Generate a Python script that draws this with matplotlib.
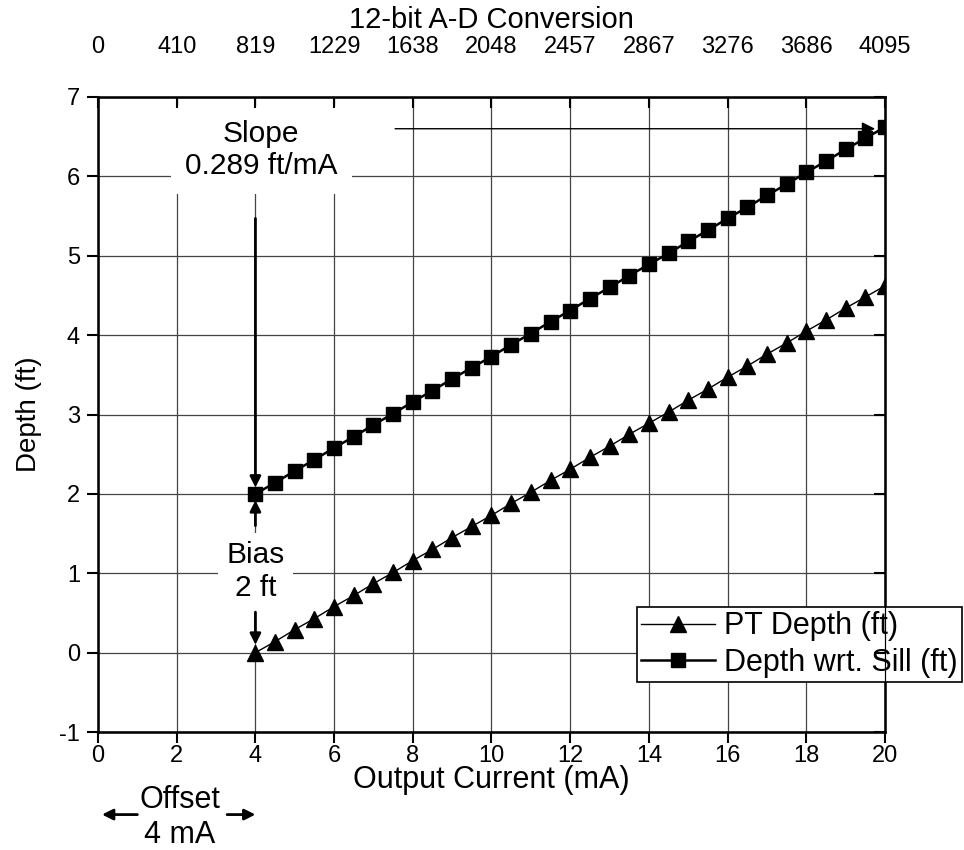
import matplotlib.pyplot as plt
import numpy as np

plt.rcParams['font.family'] = ['Liberation Sans', 'DejaVu Sans']
plt.rcParams['axes.unicode_minus'] = False

# corrente de saida (mA) e profundidades
corrente = [4.0, 4.5, 5.0, 5.5, 6.0, 6.5, 7.0, 7.5, 8.0, 8.5, 9.0, 9.5, 10.0, 10.5,
            11.0, 11.5, 12.0, 12.5, 13.0, 13.5, 14.0, 14.5, 15.0, 15.5, 16.0, 16.5,
            17.0, 17.5, 18.0, 18.5, 19.0, 19.5, 20.0]
pt_depth = [0.00, 0.14, 0.29, 0.43, 0.58, 0.72, 0.87, 1.01, 1.16, 1.30, 1.45, 1.59,
            1.73, 1.88, 2.02, 2.17, 2.31, 2.46, 2.60, 2.75, 2.89, 3.03, 3.18, 3.32,
            3.47, 3.61, 3.76, 3.90, 4.05, 4.19, 4.34, 4.48, 4.62]
sill_depth = [2.00, 2.14, 2.29, 2.43, 2.58, 2.72, 2.87, 3.01, 3.16, 3.30, 3.45, 3.59,
              3.73, 3.88, 4.02, 4.17, 4.31, 4.46, 4.60, 4.75, 4.89, 5.03, 5.18, 5.32,
              5.47, 5.61, 5.76, 5.90, 6.05, 6.19, 6.34, 6.48, 6.62]

xticks = [0, 2, 4, 6, 8, 10, 12, 14, 16, 18, 20]
top_labels = ["0", "410", "819", "1229", "1638", "2048", "2457", "2867", "3276", "3686", "4095"]

fig = plt.figure(figsize=(9.64, 8.5), dpi=100)
ax = fig.add_axes([0.1017, 0.1388, 0.8163, 0.7471])

ax.plot(corrente, pt_depth, 'k-', lw=1.0, marker='^', ms=11, label='PT Depth (ft)', zorder=3)
ax.plot(corrente, sill_depth, 'k-', lw=1.8, marker='s', ms=9.5, label='Depth wrt. Sill (ft)', zorder=3)

ax.set_xlim(0, 20)
ax.set_ylim(-1, 7)
ax.set_xticks(xticks)
ax.set_yticks(range(-1, 8))
ax.grid(True, color='#444444', lw=0.9)
ax.set_axisbelow(True)
ax.tick_params(axis='both', labelsize=17, width=1.5, length=8, direction='out')
ax.tick_params(axis='x', pad=1)
ax.tick_params(axis='y', pad=5)
for s in ax.spines.values():
    s.set_linewidth(1.8)
ax.set_xlabel("Output Current (mA)", fontsize=22, labelpad=-1)
ax.set_ylabel("Depth (ft)", fontsize=20, labelpad=12)

# eixo superior com a conversao A-D
ax2 = ax.twiny()
ax2.set_xlim(0, 20)
ax2.set_xticks(xticks)
ax2.set_xticklabels(top_labels)
ax2.tick_params(axis='x', labelsize=17, width=1.5, length=8, direction='in', pad=28)
ax2.set_xlabel("12-bit A-D Conversion", fontsize=21, labelpad=6)

# ticks do lado direito para dentro
ax3 = ax.twinx()
ax3.set_ylim(-1, 7)
ax3.set_yticks(range(-1, 8))
ax3.set_yticklabels([])
ax3.tick_params(axis='y', width=1.5, length=8, direction='in')

caixa = dict(facecolor='white', edgecolor='none', pad=10)
ax.text(4.15, 6.33, "Slope\n0.289 ft/mA", ha='center', va='center', fontsize=21.5,
        linespacing=1.2, bbox=caixa, zorder=2)
ax.text(4.0, 1.02, "Bias\n2 ft", ha='center', va='center', fontsize=21.5,
        linespacing=1.25, bbox=dict(facecolor='white', edgecolor='none', pad=6), zorder=2)

seta = dict(arrowstyle='-|>', color='k', lw=2, mutation_scale=16, shrinkA=0, shrinkB=0)
seta_fina = dict(arrowstyle='-|>', color='k', lw=1.0, mutation_scale=20, shrinkA=0, shrinkB=0)
ax.annotate("", xy=(4, 2.08), xytext=(4, 5.47), arrowprops=seta, zorder=4)
ax.annotate("", xy=(4, 1.92), xytext=(4, 1.6), arrowprops=seta, zorder=4)
ax.annotate("", xy=(4, 0.1), xytext=(4, 0.51), arrowprops=seta, zorder=4)
ax.annotate("", xy=(19.75, 6.6), xytext=(7.55, 6.6), arrowprops=seta_fina, zorder=4)

ax.text(2.08, -1.86, "Offset", ha='center', va='center', fontsize=22, clip_on=False)
ax.text(2.08, -2.48, "4 mA", ha='center', va='bottom', fontsize=22, clip_on=False)
ax.annotate("", xy=(0.1, -2.04), xytext=(1.0, -2.04), arrowprops=seta, annotation_clip=False)
ax.annotate("", xy=(4.0, -2.04), xytext=(3.28, -2.04), arrowprops=seta, annotation_clip=False)

leg = ax.legend(loc='upper right', bbox_to_anchor=(0.998, 0.286), bbox_transform=fig.transFigure,
                fontsize=22, frameon=True, fancybox=False, edgecolor='k', framealpha=1,
                handlelength=2.4, borderpad=0.15, labelspacing=0.2, handletextpad=0.3,
                borderaxespad=0)
leg.get_frame().set_linewidth(1.2)
leg.set_zorder(5)

plt.savefig("out.png", dpi=100)
